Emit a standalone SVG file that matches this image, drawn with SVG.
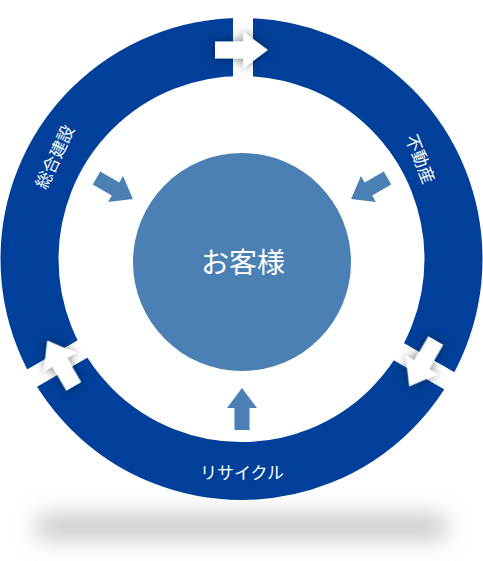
<svg xmlns="http://www.w3.org/2000/svg" width="483" height="561" viewBox="0 0 483 561">
<style>
.ring{fill:none;stroke:#00409a;stroke-width:58}
.gap{fill:#ffffff}
.warrow{fill:#ffffff;filter:url(#sh)}
.barrow{fill:#4b80b5}
.lbl{font-family:"Noto Sans CJK JP","Noto Sans",sans-serif;fill:#ffffff}
</style>
<defs>
<filter id="sh" x="-60%" y="-60%" width="220%" height="220%">
<feDropShadow dx="0" dy="0" stdDeviation="5" flood-color="#000" flood-opacity="0.5"/>
</filter>
<filter id="blur" x="-20%" y="-200%" width="140%" height="500%">
<feGaussianBlur stdDeviation="11"/>
</filter>
</defs>
<g id="shadow">
<rect x="35" y="514" width="413" height="26" rx="13" fill="#cbcbcb" filter="url(#blur)"/>
</g>
<g id="cycle-ring">
<circle class="ring" cx="241.5" cy="259" r="212"/>
<rect class="gap" x="233" y="12" width="20" height="70"/>
<rect class="gap" x="233" y="12" width="20" height="70" transform="rotate(120 241.5 259)"/>
<rect class="gap" x="233" y="12" width="20" height="70" transform="rotate(240 241.5 259)"/>
</g>
<g id="connectors">
<path class="warrow" d="M215,41.5 H243 V31.5 L268,50 L243,68.5 V58.5 H215 Z"/>
<path class="warrow" d="M215,41.5 H243 V31.5 L268,50 L243,68.5 V58.5 H215 Z" transform="rotate(120 241.5 259)"/>
<path class="warrow" d="M215,41.5 H243 V31.5 L268,50 L243,68.5 V58.5 H215 Z" transform="rotate(240 241.5 259)"/>
<path class="barrow" d="M242,388 L257,408 H249.5 V430 H234.5 V408 H227 Z"/>
<path class="barrow" d="M242,388 L257,408 H249.5 V430 H234.5 V408 H227 Z" transform="rotate(120 242 262)"/>
<path class="barrow" d="M242,388 L257,408 H249.5 V430 H234.5 V408 H227 Z" transform="rotate(240 242 262)"/>
</g>
<g id="node-customer">
<circle cx="242" cy="262" r="109" fill="#4b80b5"/>
<text class="lbl" x="243" y="273" font-size="28" text-anchor="middle">お客様</text>
</g>
<g id="node-construction">
<text class="lbl" x="0" y="6" font-size="17" text-anchor="middle" transform="translate(55 157) rotate(-65)">総合建設</text>
</g>
<g id="node-realestate">
<text class="lbl" x="0" y="6" font-size="17" text-anchor="middle" transform="translate(420 159) rotate(68)">不動産</text>
</g>
<g id="node-recycle">
<text class="lbl" x="242" y="479" font-size="17" text-anchor="middle">リサイクル</text>
</g>
</svg>
